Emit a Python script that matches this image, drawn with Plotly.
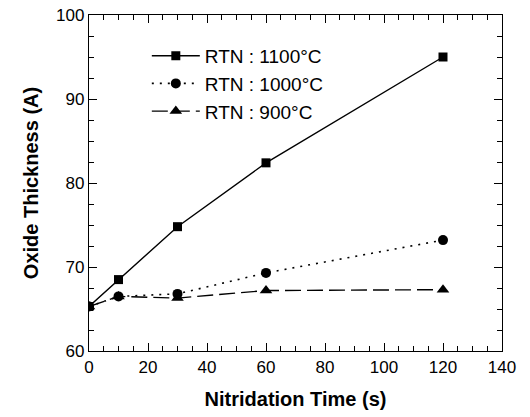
import plotly.graph_objects as go

time_s = [0, 10, 30, 60, 120]
t1100 = [65.3, 68.5, 74.8, 82.4, 95.0]
t1000 = [65.3, 66.5, 66.8, 69.3, 73.2]
t900 = [65.3, 66.5, 66.3, 67.2, 67.3]
names = ["RTN : 1100°C", "RTN : 1000°C", "RTN : 900°C"]

FONT = "Liberation Sans, Arial, Helvetica"

fig = go.Figure()
fig.add_trace(go.Scatter(x=time_s, y=t900, name=names[2], mode="lines+markers",
                         line=dict(color="black", width=1.4, dash="16px,6px"),
                         marker=dict(symbol="triangle-up", size=11, color="black"),
                         legendrank=3))
fig.add_trace(go.Scatter(x=time_s, y=t1000, name=names[1], mode="lines+markers",
                         line=dict(color="black", width=1.6, dash="2px,6px"),
                         marker=dict(symbol="circle", size=10, color="black"),
                         legendrank=2))
fig.add_trace(go.Scatter(x=time_s, y=t1100, name=names[0], mode="lines+markers",
                         line=dict(color="black", width=1.4, dash="solid"),
                         marker=dict(symbol="square", size=9, color="black"),
                         legendrank=1))

axis_common = dict(showgrid=False, zeroline=False, showline=True, linecolor="black",
                   linewidth=1.4, mirror="ticks", ticks="inside", ticklen=8,
                   tickwidth=1.2, tickcolor="black", automargin=False,
                   tickfont=dict(family=FONT, size=17, color="black"))

fig.update_xaxes(range=[0, 140], dtick=20, tick0=0,
                 minor=dict(dtick=5, ticks="inside", ticklen=5, tickcolor="black", tickwidth=1),
                 title=dict(text="<b>Nitridation Time (s)</b>", standoff=16,
                            font=dict(family=FONT, size=20, color="black")),
                 **axis_common)
fig.update_yaxes(range=[60, 100], dtick=10, tick0=60,
                 minor=dict(dtick=2.5, ticks="inside", ticklen=5, tickcolor="black", tickwidth=1),
                 title=dict(text="<b>Oxide Thickness (A)</b>", standoff=12,
                            font=dict(family=FONT, size=20, color="black")),
                 **axis_common)

fig.update_layout(
    width=530, height=417,
    margin=dict(l=89, r=28, t=15, b=66),
    plot_bgcolor="white", paper_bgcolor="white",
    font=dict(family=FONT, color="black"),
    legend=dict(x=0.14, y=0.935, xanchor="left", yanchor="top",
                traceorder="normal",
                font=dict(family=FONT, size=19, color="black"),
                bgcolor="rgba(0,0,0,0)", itemwidth=48),
)

fig.write_html("out.html", config={"displayModeBar": False},
               post_script="document.body.style.margin='0px';")
